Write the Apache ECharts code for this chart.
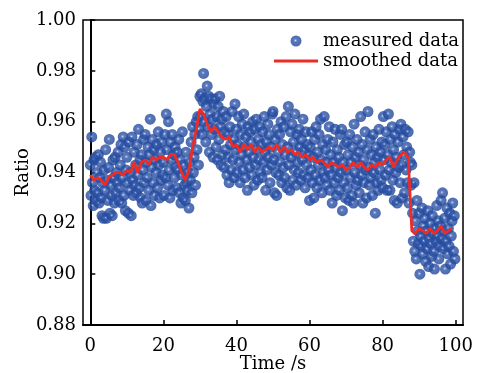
<!DOCTYPE html>
<html><head><meta charset="utf-8">
<script src="https://cdn.jsdelivr.net/npm/echarts@6/dist/echarts.min.js"></script>
<style>html,body{margin:0;padding:0;background:#fff}#c{width:477px;height:373px}</style>
</head><body><div id="c"></div><script>
// tick labels
const xTicks = [0, 20, 40, 60, 80, 100];
const yTicks = [0.88, 0.90, 0.92, 0.94, 0.96, 0.98, 1.00];
// measured data: 5 samples per second, one array per 10 s block (starting at block start time)
const sampleStep = 0.2;
const measured_00 = [0.943,0.931,0.954,0.936,0.927,0.945,0.933,0.946,0.929,0.940,0.932,0.947,0.928,0.938,0.944,0.930,0.923,0.936,0.922,0.941,0.933,0.949,0.922,0.937,0.929,0.942,0.953,0.924,0.935,0.931,0.923,0.945,0.938,0.928,0.946,0.932,0.940,0.936,0.948,0.929,0.934,0.943,0.951,0.928,0.938,0.954,0.931,0.950,0.925,0.941];
const measured_10 = [0.946,0.936,0.924,0.952,0.933,0.940,0.923,0.954,0.937,0.931,0.948,0.935,0.943,0.932,0.951,0.939,0.957,0.934,0.945,0.930,0.947,0.928,0.941,0.953,0.936,0.955,0.929,0.944,0.938,0.950,0.933,0.947,0.961,0.927,0.942,0.953,0.936,0.949,0.931,0.945,0.940,0.951,0.934,0.956,0.943,0.930,0.948,0.937,0.952,0.939];
const measured_20 = [0.944,0.931,0.955,0.938,0.963,0.949,0.935,0.960,0.941,0.930,0.952,0.945,0.955,0.933,0.947,0.938,0.950,0.942,0.934,0.948,0.941,0.953,0.932,0.945,0.928,0.939,0.956,0.930,0.943,0.935,0.929,0.948,0.936,0.933,0.940,0.926,0.944,0.937,0.952,0.932,0.958,0.940,0.946,0.955,0.935,0.960,0.949,0.962,0.943,0.957];
const measured_30 = [0.970,0.962,0.971,0.955,0.968,0.979,0.960,0.969,0.952,0.966,0.974,0.958,0.970,0.948,0.963,0.969,0.955,0.961,0.946,0.967,0.957,0.969,0.950,0.962,0.945,0.966,0.953,0.970,0.958,0.943,0.961,0.947,0.964,0.942,0.956,0.949,0.962,0.939,0.955,0.946,0.936,0.958,0.951,0.941,0.964,0.945,0.953,0.938,0.967,0.949];
const measured_40 = [0.957,0.940,0.951,0.962,0.944,0.936,0.955,0.947,0.959,0.941,0.963,0.950,0.938,0.954,0.945,0.933,0.958,0.948,0.942,0.956,0.952,0.939,0.960,0.946,0.935,0.957,0.943,0.961,0.949,0.937,0.953,0.945,0.958,0.940,0.951,0.938,0.956,0.944,0.962,0.948,0.933,0.952,0.941,0.959,0.946,0.955,0.936,0.950,0.943,0.963];
const measured_50 = [0.964,0.945,0.932,0.953,0.940,0.931,0.957,0.948,0.939,0.955,0.944,0.960,0.936,0.951,0.942,0.958,0.938,0.947,0.962,0.934,0.950,0.966,0.943,0.933,0.956,0.946,0.959,0.937,0.952,0.941,0.963,0.948,0.935,0.955,0.944,0.940,0.957,0.950,0.937,0.953,0.945,0.961,0.939,0.949,0.934,0.956,0.943,0.951,0.938,0.947];
const measured_60 = [0.929,0.950,0.941,0.956,0.936,0.946,0.930,0.953,0.939,0.958,0.934,0.948,0.943,0.955,0.937,0.961,0.945,0.932,0.951,0.940,0.962,0.938,0.949,0.944,0.935,0.953,0.941,0.958,0.933,0.947,0.939,0.928,0.952,0.944,0.936,0.957,0.942,0.931,0.949,0.938,0.946,0.933,0.955,0.940,0.957,0.925,0.944,0.936,0.951,0.930];
const measured_70 = [0.941,0.952,0.934,0.947,0.929,0.955,0.938,0.944,0.931,0.950,0.928,0.959,0.940,0.946,0.935,0.953,0.937,0.948,0.932,0.943,0.962,0.939,0.951,0.928,0.945,0.936,0.956,0.941,0.930,0.949,0.964,0.942,0.935,0.953,0.938,0.947,0.931,0.955,0.940,0.944,0.924,0.950,0.936,0.946,0.933,0.957,0.941,0.948,0.937,0.952];
const measured_80 = [0.934,0.962,0.945,0.951,0.939,0.956,0.933,0.947,0.963,0.941,0.933,0.953,0.944,0.958,0.937,0.949,0.929,0.955,0.940,0.946,0.928,0.952,0.942,0.957,0.936,0.959,0.943,0.930,0.954,0.947,0.932,0.957,0.941,0.950,0.936,0.956,0.928,0.948,0.944,0.935,0.943,0.924,0.913,0.936,0.909,0.921,0.906,0.929,0.917,0.912];
const measured_90 = [0.924,0.900,0.915,0.911,0.926,0.908,0.919,0.913,0.922,0.905,0.917,0.910,0.925,0.903,0.914,0.920,0.912,0.907,0.923,0.916,0.909,0.902,0.918,0.913,0.927,0.915,0.921,0.906,0.911,0.919,0.929,0.914,0.932,0.910,0.917,0.922,0.902,0.913,0.926,0.908,0.918,0.911,0.924,0.904,0.915,0.921,0.928,0.909,0.923,0.906];
const measuredBlocks = [[0,measured_00],[10,measured_10],[20,measured_20],[30,measured_30],[40,measured_40],[50,measured_50],[60,measured_60],[70,measured_70],[80,measured_80],[90,measured_90]];
// smoothed data: one value per second, t = 0..99
const smoothed = [0.939,0.937,0.938,0.937,0.935,0.938,0.939,0.940,0.940,0.939,
 0.941,0.940,0.944,0.940,0.944,0.945,0.943,0.946,0.945,0.946,
 0.946,0.945,0.947,0.947,0.944,0.940,0.937,0.941,0.950,0.957,
 0.965,0.963,0.959,0.956,0.958,0.956,0.954,0.953,0.954,0.950,
 0.951,0.948,0.951,0.949,0.951,0.948,0.950,0.948,0.949,0.950,
 0.949,0.951,0.948,0.950,0.948,0.949,0.947,0.948,0.946,0.947,
 0.945,0.946,0.944,0.945,0.944,0.942,0.944,0.943,0.942,0.943,
 0.941,0.942,0.944,0.942,0.944,0.942,0.941,0.943,0.942,0.944,
 0.943,0.945,0.946,0.942,0.945,0.947,0.948,0.946,0.917,0.916,
 0.918,0.917,0.916,0.918,0.916,0.917,0.919,0.916,0.917,0.918];

const scatterData = [];
measuredBlocks.forEach(([t0, vals]) => vals.forEach((v, i) => scatterData.push([+(t0 + i * sampleStep).toFixed(1), v])));
const lineData = smoothed.map((v, i) => [i, v]);

const FONT = 'DejaVu Serif';
const RED = '#ee2b25';
const chart = echarts.init(document.getElementById('c'), null, {renderer: 'canvas'});
chart.setOption({
  animation: false,
  backgroundColor: '#fff',
  grid: {left: 83, top: 20, right: 14, bottom: 48, show: true, borderColor: '#000', borderWidth: 1.5, backgroundColor: 'transparent', containLabel: false, outerBoundsMode: 'none'},
  legend: {
    left: 269, top: 27, orient: 'vertical', itemWidth: 44, itemHeight: 11, itemGap: 2,
    textStyle: {fontFamily: FONT, fontSize: 18, color: '#000', lineHeight: 18},
    data: [
      {name: 'measured data'},
      {name: 'smoothed data', icon: 'path://M0 0H44V2.8H0Z', itemStyle: {color: RED}}
    ]
  },
  xAxis: {
    type: 'value', min: -2, max: 102,
    name: 'Time /s', nameLocation: 'middle', nameGap: 30, nameMoveOverlap: false,
    nameTextStyle: {fontFamily: FONT, fontSize: 18, color: '#000'},
    axisLine: {lineStyle: {color: '#000', width: 2}},
    axisTick: {inside: true, length: 5, lineStyle: {color: '#000', width: 1.5}, customValues: xTicks},
    axisLabel: {fontFamily: FONT, fontSize: 18, color: '#000', margin: 12, customValues: xTicks},
    splitLine: {show: false}
  },
  yAxis: {
    type: 'value', min: 0.88, max: 1.00, interval: 0.02,
    name: 'Ratio', nameLocation: 'middle', nameGap: 51, nameRotate: 90, nameMoveOverlap: false,
    nameTextStyle: {fontFamily: FONT, fontSize: 18, color: '#000'},
    axisLine: {lineStyle: {color: '#000', width: 2}},
    axisTick: {inside: true, length: 5, lineStyle: {color: '#000', width: 1.5}, customValues: yTicks},
    axisLabel: {fontFamily: FONT, fontSize: 18, color: '#000', margin: 7, customValues: yTicks, formatter: v => v.toFixed(2)},
    splitLine: {show: false}
  },
  series: [
    {
      name: 'measured data', type: 'scatter', symbol: 'circle', symbolSize: 11, z: 2,
      itemStyle: {
        color: {type: 'radial', x: 0.45, y: 0.45, r: 0.55, colorStops: [
          {offset: 0, color: '#e8ecf8'}, {offset: 0.12, color: '#7890d2'},
          {offset: 0.3, color: '#2f56ab'}, {offset: 1, color: '#1f4596'}]}
      },
      data: scatterData
    },
    {
      name: 'smoothed data', type: 'line', symbol: 'none', z: 3,
      lineStyle: {color: RED, width: 2.8}, itemStyle: {color: RED},
      data: lineData
    }
  ]
});
</script></body></html>
